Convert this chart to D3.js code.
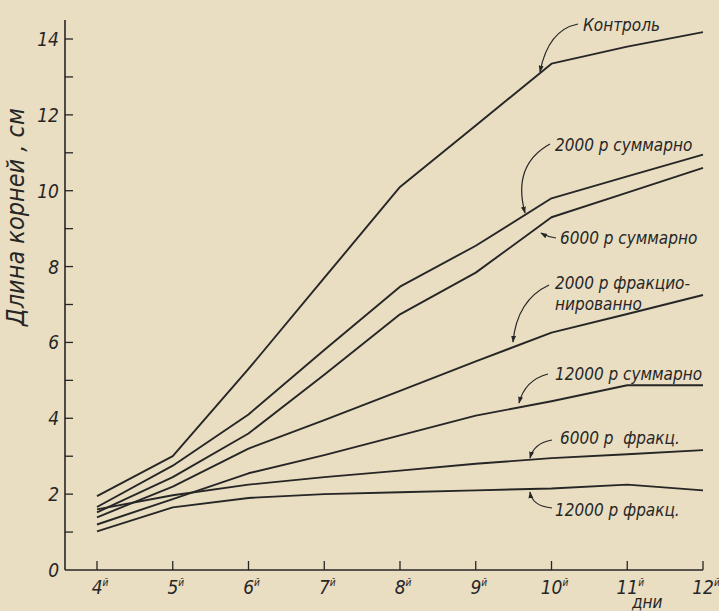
<!DOCTYPE html>
<html><head><meta charset="utf-8">
<script src="https://cdn.jsdelivr.net/npm/d3@7"></script>
<style>
html,body{margin:0;padding:0;background:#e9ddc2;}
svg{display:block;}
text{font-family:"DejaVu Sans Condensed","DejaVu Sans",sans-serif;font-stretch:condensed;font-style:italic;fill:#262626;}
</style></head>
<body><svg id="c" width="719" height="611"></svg>
<script>
// ---- data ----
const days = [4,5,6,7,8,9,10,11,12];
const dayLabels = ["4","5","6","7","8","9","10","11","12"];
const yTickValues = [0,2,4,6,8,10,12,14];
const seriesNames = ["Контроль","2000 р суммарно","6000 р суммарно","2000 р фракционированно","12000 р суммарно","6000 р фракц.","12000 р фракц."];
const control      = [1.95, 3.0, 5.3, 7.7, 10.1, 11.72, 13.35, 13.8, 14.18];
const sum2000      = [1.66, 2.75, 4.1, 5.8, 7.47, 8.55, 9.8, 10.38, 10.95];
const sum6000      = [1.52, 2.45, 3.6, 5.15, 6.74, 7.84, 9.3, 9.95, 10.6];
const frac2000     = [1.39, 2.2, 3.2, 3.95, 4.72, 5.5, 6.26, 6.75, 7.25];
const sum12000     = [1.2, 1.87, 2.55, 3.03, 3.55, 4.07, 4.45, 4.87, 4.87];
const frac6000     = [1.6, 1.97, 2.25, 2.45, 2.62, 2.8, 2.95, 3.05, 3.16];
const frac12000    = [1.02, 1.65, 1.9, 2.0, 2.05, 2.1, 2.15, 2.25, 2.1];
const allSeries = [control, sum2000, sum6000, frac2000, sum12000, frac6000, frac12000];

// ---- layout ----
const svg = d3.select("#c");
const ink = "#262626";
const x = d3.scaleLinear().domain([4,12]).range([97,703]);
const y = d3.scaleLinear().domain([0,14]).range([570,39]);
const axisX = 65;

// y axis
svg.append("line").attr("x1",axisX).attr("x2",axisX).attr("y1",y(0)).attr("y2",20)
  .attr("stroke",ink).attr("stroke-width",1.6);
svg.selectAll(".yt").data(d3.range(1,15)).enter().append("line")
  .attr("x1",axisX).attr("x2",axisX+8).attr("y1",d=>y(d)).attr("y2",d=>y(d))
  .attr("stroke",ink).attr("stroke-width",1.3);
svg.selectAll(".yl").data(yTickValues).enter().append("text")
  .attr("x",59).attr("y",d=>y(d)+7).attr("text-anchor","end")
  .attr("font-size",19).text(d=>d);

// x axis
svg.append("line").attr("x1",axisX).attr("x2",x(12)).attr("y1",y(0)).attr("y2",y(0))
  .attr("stroke",ink).attr("stroke-width",1.6);
svg.selectAll(".xt").data(days).enter().append("line")
  .attr("x1",d=>x(d)).attr("x2",d=>x(d)).attr("y1",y(0)).attr("y2",y(0)-9)
  .attr("stroke",ink).attr("stroke-width",1.3);
const xl = svg.selectAll(".xl").data(days).enter().append("text")
  .attr("x",(d,i)=>x(d)+3).attr("y",594).attr("text-anchor","middle").attr("font-size",19);
xl.append("tspan").text((d,i)=>dayLabels[i]);
xl.append("tspan").attr("dy",-8).attr("font-size",10).text("й");
svg.append("text").attr("x",x(11)+20).attr("y",608).attr("text-anchor","middle")
  .attr("font-size",17).text("дни");

// y axis title
svg.append("text").attr("transform","translate(24,217) rotate(-90)")
  .attr("text-anchor","middle").attr("font-size",25).text("Длина корней , см");

// lines
const line = d3.line().x((d,i)=>x(days[i])).y(d=>y(d));
svg.selectAll(".ser").data(allSeries).enter().append("path")
  .attr("d",line).attr("fill","none").attr("stroke",ink).attr("stroke-width",1.9)
  .attr("stroke-linejoin","round");

// arrow marker
svg.append("defs").append("marker").attr("id","ah").attr("viewBox","0 0 10 10")
  .attr("refX",9).attr("refY",5).attr("markerWidth",7).attr("markerHeight",7)
  .attr("orient","auto-start-reverse").attr("markerUnits","userSpaceOnUse")
  .append("path").attr("d","M0,1.5 L10,5 L0,8.5 Z").attr("fill",ink);

// annotations (pixel layout)
const notes = [
  {t:["Контроль"], tx:583, ty:31, a:[[578,24],[548,30],[540,72]]},
  {t:["2000 р суммарно"], tx:555, ty:151, a:[[550,144],[512,165],[525,213]]},
  {t:["6000 р суммарно"], tx:560, ty:244, a:[[556,238],[548,237],[541,233]]},
  {t:["2000 р фракцио-","нированно"], tx:555, ty:289, a:[[549,285],[517,300],[513,342]]},
  {t:["12000 р суммарно"], tx:555, ty:380, a:[[548,374],[525,380],[519,403]]},
  {t:["6000 р  фракц."], tx:560, ty:444, a:[[552,440],[534,443],[530,458]]},
  {t:["12000 р фракц."], tx:555, ty:516, a:[[552,508],[532,506],[530,492]]}
];
notes.forEach(n=>{
  const tx = svg.append("text").attr("x",n.tx).attr("y",n.ty).attr("font-size",17)
    .style("white-space","pre");
  n.t.forEach((s,i)=>tx.append("tspan").attr("x",n.tx).attr("dy",i?21:0).text(s));
  const p = d3.path(); p.moveTo(...n.a[0]); p.quadraticCurveTo(...n.a[1],...n.a[2]);
  svg.append("path").attr("d",p.toString()).attr("fill","none").attr("stroke",ink)
    .attr("stroke-width",1.2).attr("marker-end","url(#ah)");
});
</script></body></html>
